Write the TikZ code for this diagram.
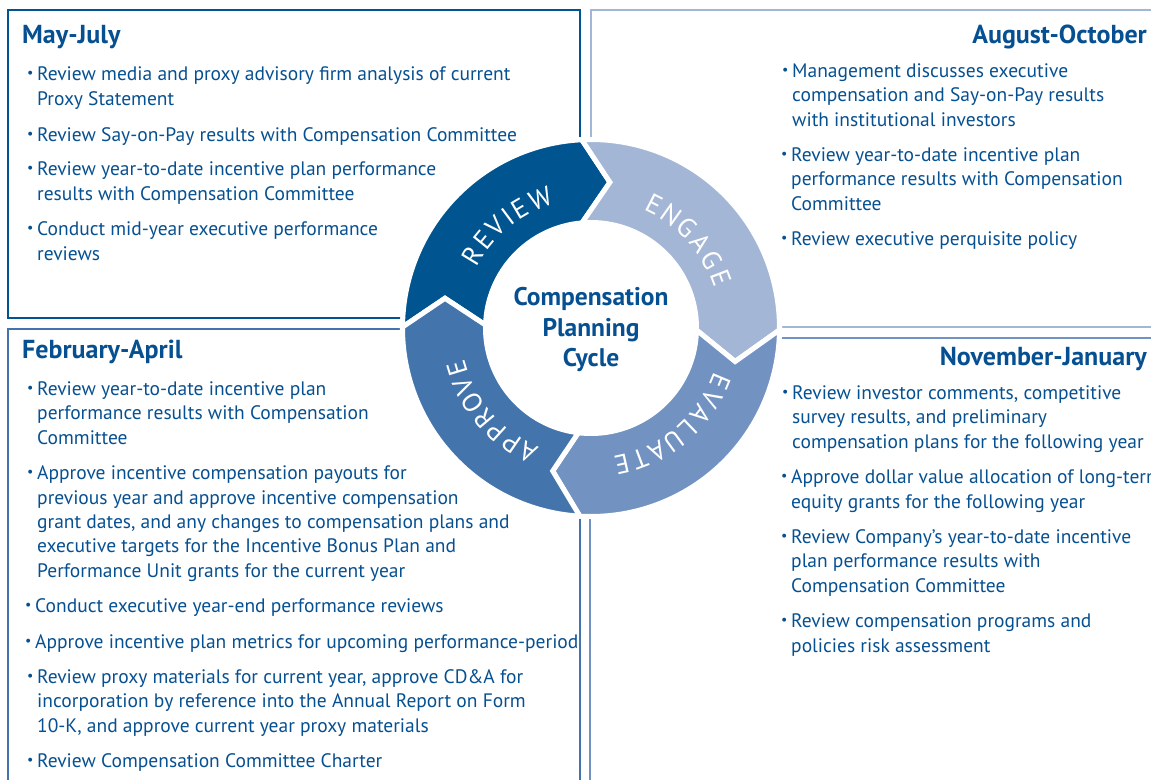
\documentclass[tikz,border=0pt]{standalone}
\usepackage{fontspec}
\setmainfont{PT Sans}
\usetikzlibrary{positioning,calc}

\definecolor{navy}{RGB}{6,80,145}
\definecolor{revcol}{RGB}{0,84,143}
\definecolor{engcol}{RGB}{164,182,214}
\definecolor{evalcol}{RGB}{114,147,194}
\definecolor{apprcol}{RGB}{68,116,172}

\newcommand\bul{\makebox[10pt][l]{\raisebox{3pt}{\fontsize{14}{14}\selectfont\textbullet}}}
\newcommand\ind{\hspace*{10pt}}

\begin{document}
\begin{tikzpicture}[x=1pt,y=1pt,every node/.style={inner sep=0pt},
  item/.style={anchor=base west,align=left,text=navy,font=\fontsize{19.5}{24.3}\selectfont},
  head/.style={text=navy,font=\fontsize{26}{26}\selectfont\bfseries},
  ringlbl/.style={text=white,font=\fontsize{27}{27}\selectfont},
  box/.style={line width=2pt}]
  \path[use as bounding box] (0,0) rectangle (1151,-779);
  \clip (0,0) rectangle (1151,-779);

  % quarter boxes
  \draw[box,revcol]  (8,-318) rectangle (580,-10);
  \draw[box,engcol]  (591,-327) rectangle (1170,-10);
  \draw[box,apprcol] (8,-329) rectangle (580,-800);
  \draw[box,evalcol] (590,-338) rectangle (1170,-800);

  % ring
  \fill[white] (591,-328) circle (191);
  \begin{scope}[shift={(591,-328)},draw=white,line width=5pt,line join=miter]
    \filldraw[fill=revcol]  (179.7:188.5) arc (179.7:92.8:188.5) -- (82.6:147) -- (94.9:105.5) arc (94.9:178.4:105.5) -- (168.5:149) -- cycle;
    \filldraw[fill=engcol]  (92.8:188.5) arc (92.8:-0.6:188.5) -- (-13.1:148) -- (-1.1:105.5) arc (-1.1:94.9:105.5) -- (82.6:147) -- cycle;
    \filldraw[fill=evalcol] (-0.6:188.5) arc (-0.6:-93.4:188.5) -- (-105:148) -- (-96.9:105.5) arc (-96.9:-1.1:105.5) -- (-13.1:148) -- cycle;
    \filldraw[fill=apprcol] (-93.4:188.5) arc (-93.4:-180.3:188.5) -- (168.5:149) -- (178.4:105.5) arc (178.4:263.1:105.5) -- (-105:148) -- cycle;

    \foreach \ch/\a [count=\i] in {R/148.6,E/140.8,V/133.0,I/126.6,E/120.6,W/111.4} {
      \node[ringlbl,rotate=\a-90] (rv\i) at (\a:139) {\ch};
    }
    \foreach \ch [count=\i] in {E,N,G,A,G,E} {
      \pgfmathsetmacro\a{42+2.5*8.4-(\i-1)*8.4}
      \node[ringlbl,rotate=\a-90] (en\i) at (\a:139) {\ch};
    }
    \foreach \ch [count=\i] in {E,V,A,L,U,A,T,E} {
      \pgfmathsetmacro\a{-50+3.5*7.8-(\i-1)*7.8}
      \node[ringlbl,rotate=\a-90] (ev\i) at (\a:140) {\ch};
    }
    \foreach \ch [count=\i] in {A,P,P,R,O,V,E} {
      \pgfmathsetmacro\a{220+3*7.7-(\i-1)*7.7}
      \node[ringlbl,rotate=\a-90] (ap\i) at (\a:140) {\ch};
    }
  \end{scope}
  \node[align=center,text=navy,font=\fontsize{25.5}{30.5}\selectfont\bfseries] (cpc) at (591,-330) {Compensation\\Planning\\Cycle};

  % May-July
  \node[head,anchor=base west] (mayjul) at (22,-43) {May-July};
  \node[item] (may1) at (27,-105) {\bul Review media and proxy advisory firm analysis of current\\\ind Proxy Statement};
  \node[item] (may2) at (27,-141) {\bul Review Say-on-Pay results with Compensation Committee};
  \node[item] (may3) at (27,-200) {\bul Review year-to-date incentive plan performance\\\ind results with Compensation Committee};
  \node[item] (may4) at (27,-260) {\bul Conduct mid-year executive performance\\\ind reviews};

  % August-October
  \node[head,anchor=base east] (augoct) at (1147,-43) {August-October};
  \node[item] (aug1) at (782,-126) {\bul Management discusses executive\\\ind compensation and Say-on-Pay results\\\ind with institutional investors};
  \node[item] (aug2) at (781,-210) {\bul Review year-to-date incentive plan\\\ind performance results with Compensation\\\ind Committee};
  \node[item] (aug3) at (781,-245) {\bul Review executive perquisite policy};

  % February-April
  \node[head,anchor=base west] (febapr) at (22,-358) {February-April};
  \node[item] (feb1) at (27,-444) {\bul Review year-to-date incentive plan\\\ind performance results with Compensation\\\ind Committee};
  \node[item] (feb2) at (27,-577) {\bul Approve incentive compensation payouts for\\\ind previous year and approve incentive compensation\\\ind grant dates, and any changes to compensation plans and\\\ind executive targets for the Incentive Bonus Plan and\\\ind Performance Unit grants for the current year};
  \node[item] (feb3) at (25,-612) {\bul Conduct executive year-end performance reviews};
  \node[item] (feb4) at (25,-648) {\bul Approve incentive plan metrics for upcoming performance-period};
  \node[item] (feb5) at (27,-732) {\bul Review proxy materials for current year, approve CD\&A for\\\ind incorporation by reference into the Annual Report on Form\\\ind 10-K, and approve current year proxy materials};
  \node[item] (feb6) at (27,-767) {\bul Review Compensation Committee Charter};

  % November-January
  \node[head,anchor=base east] (novjan) at (1147,-365) {November-January};
  \node[item] (nov1) at (782,-448) {\bul Review investor comments, competitive\\\ind survey results, and preliminary\\\ind compensation plans for the following year};
  \node[item] (nov2) at (781,-508) {\bul Approve dollar value allocation of long-term\\\ind equity grants for the following year};
  \node[item] (nov3) at (781,-592) {\bul Review Company’s year-to-date incentive\\\ind plan performance results with\\\ind Compensation Committee};
  \node[item] (nov4) at (781,-652) {\bul Review compensation programs and\\\ind policies risk assessment};
\end{tikzpicture}
\end{document}
